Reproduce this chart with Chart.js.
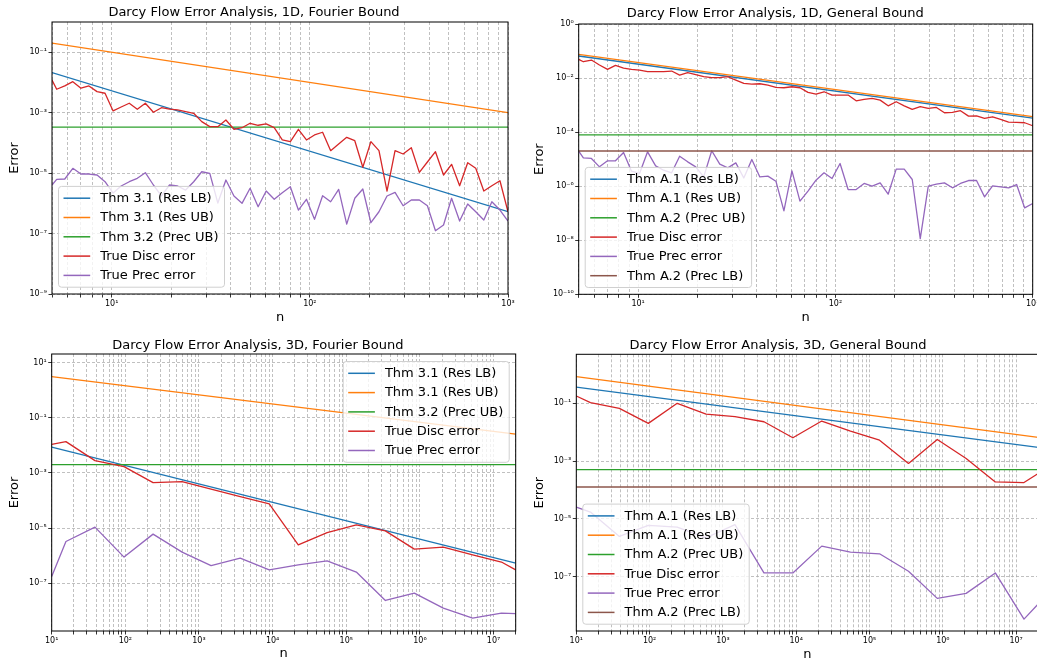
<!DOCTYPE html>
<html>
<head>
<meta charset="utf-8">
<script src="https://cdn.jsdelivr.net/npm/chart.js@4.4.1/dist/chart.umd.min.js"></script>
<style>
  html, body { margin: 0; padding: 0; background: #fff; overflow: hidden; width: 1037px; height: 664px; }
  canvas { position: absolute; }
</style>
</head>
<body>
<canvas id="f1" width="518" height="330" style="left:0;top:0"></canvas>
<canvas id="g1" width="530" height="330" style="left:518px;top:0"></canvas>
<canvas id="f3" width="518" height="334" style="left:0;top:330px"></canvas>
<canvas id="g3" width="530" height="334" style="left:518px;top:330px"></canvas>
<script>
// grid sizes
const n1D = [5, 5.28, 5.80, 6.37, 7.00, 7.68, 8.44, 9.26, 10.17, 11.17, 12.27, 13.47, 14.79, 16.24, 17.84,
  19.59, 21.51, 23.62, 25.94, 28.48, 31.28, 34.34, 37.71, 41.41, 45.48, 49.94, 54.84, 60.22, 66.13, 72.62,
  79.74, 87.57, 96.16, 105.6, 116.0, 127.4, 139.8, 153.5, 168.6, 185.1, 203.3, 223.3, 245.2, 269.2, 295.6,
  325.1, 357.0, 392.0, 430.5, 472.8, 519.2, 570.1, 626.1, 687.5, 755.0, 829.0, 910.7, 1000];
const n3D = [10, 15.6, 38.7, 96, 238, 590, 1460, 3630, 9000, 22300, 55000, 137000, 340000, 840000,
  2080000, 5200000, 12800000, 20000000];
const ends1D = [5, 1000];
const ends3D = [10, 20000000];

// 1D, Fourier bound
const f1ResLB = [0.0212, 5.3e-7];
const f1ResUB = [0.2, 1.0e-3];
const f1PrecUB = [3.3e-4, 3.3e-4];
const f1Disc = [1.21e-2, 5.96e-3, 7.66e-3, 1.06e-2, 6.43e-3, 7.66e-3, 4.96e-3, 4.39e-3, 1.14e-3, 1.54e-3,
  2.05e-3, 1.30e-3, 2.05e-3, 1.03e-3, 1.46e-3, 1.30e-3, 1.23e-3, 1.08e-3, 9.55e-4, 5.04e-4,
  3.44e-4, 3.44e-4, 5.73e-4, 2.82e-4, 3.18e-4, 4.46e-4, 3.83e-4, 4.23e-4, 3.18e-4, 1.25e-4,
  1.10e-4, 2.82e-4, 1.25e-4, 1.83e-4, 2.25e-4, 5.52e-5, 9.2e-5, 1.53e-4, 1.18e-4, 1.56e-5,
  1.10e-4, 5.52e-5, 2.55e-6, 5.52e-5, 4.29e-5, 6.93e-5, 1.06e-5, 2.33e-5, 5.12e-5, 8.65e-6,
  1.95e-5, 3.83e-6, 2.21e-5, 1.44e-5, 2.55e-6, 3.83e-6, 5.6e-6, 5.27e-7];
const f1Prec = [4.04e-6, 6.24e-6, 6.38e-6, 1.44e-5, 9.33e-6, 9.33e-6, 8.65e-6, 5.19e-6, 2.19e-6, 3.74e-6,
  5.19e-6, 6.73e-6, 1.03e-5, 4.04e-6, 1.75e-6, 4.04e-6, 3.74e-6, 2.75e-6, 5.19e-6, 1.11e-5,
  9.85e-6, 1.02e-6, 5.91e-6, 1.75e-6, 1.0e-6, 3.14e-6, 7.71e-7, 2.55e-6, 1.36e-6, 2.24e-6,
  3.55e-6, 6.0e-7, 1.36e-6, 2.95e-7, 1.79e-6, 1.13e-6, 2.91e-6, 2.06e-7, 1.47e-6, 2.98e-6,
  2.28e-7, 5.27e-7, 1.75e-6, 2.31e-6, 8.33e-7, 1.29e-6, 1.29e-6, 8.33e-7, 1.24e-7, 1.91e-7,
  1.47e-6, 2.59e-7, 9.48e-7, 5.27e-7, 2.80e-7, 1.13e-6, 6.0e-7, 2.59e-7];

// 1D, general bound
const g1ResLB = [0.0654, 3.27e-4];
const g1ResUB = [0.075, 3.75e-4];
const g1PrecUB = [7.9e-5, 7.9e-5];
const g1PrecLB = [2.0e-5, 2.0e-5];
const g1Disc = [4.93e-2, 4.02e-2, 4.64e-2, 3.03e-2, 2.09e-2, 2.95e-2, 2.35e-2, 2.09e-2, 1.98e-2, 1.72e-2,
  1.72e-2, 1.72e-2, 1.82e-2, 1.29e-2, 1.58e-2, 1.33e-2, 1.12e-2, 1.03e-2, 1.03e-2, 1.12e-2,
  8.43e-3, 6.34e-3, 6.0e-3, 6.16e-3, 5.5e-3, 4.51e-3, 4.38e-3, 4.77e-3, 4.38e-3, 2.95e-3,
  2.55e-3, 3.11e-3, 2.35e-3, 2.35e-3, 2.35e-3, 1.44e-3, 1.62e-3, 1.77e-3, 1.53e-3, 9.4e-4,
  1.33e-3, 9.4e-4, 6.9e-4, 8.7e-4, 7.5e-4, 8.2e-4, 5.2e-4, 5.35e-4, 6.2e-4, 3.9e-4,
  4.0e-4, 3.2e-4, 3.7e-4, 2.95e-4, 2.35e-4, 2.28e-4, 2.22e-4, 1.72e-4];
const g1Prec = [1.98e-5, 1.12e-5, 1.06e-5, 5.2e-6, 8.7e-6, 8.7e-6, 1.77e-5, 3.6e-6, 2.95e-6, 1.87e-5,
  5.66e-6, 3.9e-6, 3.12e-6, 1.29e-5, 7.96e-6, 5.2e-6, 2.2e-6, 2.04e-5, 6.53e-6, 4.77e-6,
  7.3e-6, 2.0e-6, 9.7e-6, 2.2e-6, 2.35e-6, 1.53e-6, 1.22e-7, 3.7e-6, 2.78e-7, 6.6e-7,
  1.67e-6, 3.12e-6, 1.92e-6, 6.9e-6, 7.5e-7, 7.5e-7, 1.26e-6, 1.0e-6, 1.33e-6, 5.06e-7,
  4.27e-6, 4.27e-6, 1.77e-6, 1.15e-8, 1.0e-6, 1.19e-6, 1.33e-6, 8.7e-7, 1.26e-6, 1.62e-6,
  1.62e-6, 4.03e-7, 1.03e-6, 9.4e-7, 8.7e-7, 1.15e-6, 1.57e-7, 2.28e-7];

// 3D, Fourier bound
const f3ResLB = [8.6e-3, 5.4e-7];
const f3ResUB = [3.11, 2.55e-2];
const f3PrecUB = [2.0e-3, 2.0e-3];
const f3Disc = [1.1e-2, 1.37e-2, 2.81e-3, 1.71e-3, 4.49e-4, 4.88e-4, 2.59e-4, 1.4e-4, 7.6e-5,
  2.48e-6, 6.9e-6, 1.32e-5, 7.98e-6, 1.73e-6, 2.05e-6, 1.08e-6, 5.9e-7, 3.08e-7];
const f3Prec = [1.76e-7, 3.27e-6, 1.09e-5, 8.9e-7, 6.07e-6, 1.35e-6, 4.4e-7, 8.2e-7, 3.08e-7,
  4.68e-7, 6.5e-7, 2.55e-7, 2.38e-8, 4.4e-8, 1.26e-8, 5.5e-9, 8.3e-9, 7.9e-9];

// 3D, general bound
const g3ResLB = [0.36, 2.96e-3];
const g3ResUB = [0.84, 6.6e-3];
const g3PrecUB = [5.1e-4, 5.1e-4];
const g3PrecLB = [1.27e-4, 1.27e-4];
const g3Disc = [0.179, 0.105, 6.7e-2, 2.02e-2, 0.1, 4.25e-2, 3.43e-2, 2.3e-2, 6.4e-3,
  2.43e-2, 1.09e-2, 5.3e-3, 8.3e-4, 5.6e-3, 1.23e-3, 1.9e-4, 1.81e-4, 3.7e-4];
const g3Prec = [2.57e-5, 1.72e-5, 2.47e-6, 5.94e-6, 5.2e-6, 2.22e-6, 6.3e-6, 1.35e-7, 1.35e-7,
  1.14e-6, 7.05e-7, 6.2e-7, 1.54e-7, 1.78e-8, 2.65e-8, 1.35e-7, 3.4e-9, 1.14e-8];

// labelled decades (exponents)
const xExp1D = [1, 2, 3];
const xExp3D = [1, 2, 3, 4, 5, 6, 7];
const yExpF1 = [-9, -7, -5, -3, -1];
const yExpG1 = [-10, -8, -6, -4, -2, 0];
const yExpF3 = [-7, -5, -3, -1, 1];
const yExpG3 = [-7, -5, -3, -1];

const C = { blue: '#1f77b4', orange: '#ff7f0e', green: '#2ca02c', red: '#d62728', purple: '#9467bd', brown: '#8c564b' };

Chart.defaults.font.family = "'DejaVu Sans', sans-serif";
Chart.defaults.color = '#000';

const SUP = { '-': '\u207b', '0': '\u2070', '1': '\u00b9', '2': '\u00b2', '3': '\u00b3', '4': '\u2074',
  '5': '\u2075', '6': '\u2076', '7': '\u2077', '8': '\u2078', '9': '\u2079' };
const pow10 = e => '10' + String(e).split('').map(c => SUP[c]).join('');

const pts = (xs, ys) => xs.map((x, i) => ({ x: x, y: ys[i] }));

// x ticks: labelled decades plus 2..9 multiples inside the range
function xTickList(min, max, exps) {
  const out = [];
  for (let e = Math.floor(Math.log10(min)); e <= Math.ceil(Math.log10(max)); e++) {
    for (let m = 1; m <= 9; m++) {
      const v = m * Math.pow(10, e);
      if (v >= min * 0.999 && v <= max * 1.001) out.push({ value: v, lbl: m === 1 && exps.includes(e) ? pow10(e) : '' });
    }
  }
  return out;
}

const boxPlugin = {
  id: 'boxLegend',
  afterDatasetsDraw(chart, args, opts) {
    const { ctx, chartArea: a } = chart;
    ctx.save();
    ctx.strokeStyle = '#000';
    ctx.lineWidth = 1;
    ctx.strokeRect(a.left, a.top, a.right - a.left, a.bottom - a.top);

    const items = chart.data.datasets;
    ctx.font = '13px "DejaVu Sans"';
    const tw = Math.max(...items.map(d => ctx.measureText(d.label).width));
    const w = 41.7 + tw + 6;
    const h = 23.6 + 19.3 * (items.length - 1);
    const x = opts.corner === 'ur' ? a.right - 6.5 - w : a.left + 6.5;
    const y = opts.corner === 'ur' ? a.top + 7.5 : a.bottom - 6.8 - h;
    const r = 3;
    ctx.beginPath();
    ctx.moveTo(x + r, y);
    ctx.lineTo(x + w - r, y); ctx.arcTo(x + w, y, x + w, y + r, r);
    ctx.lineTo(x + w, y + h - r); ctx.arcTo(x + w, y + h, x + w - r, y + h, r);
    ctx.lineTo(x + r, y + h); ctx.arcTo(x, y + h, x, y + h - r, r);
    ctx.lineTo(x, y + r); ctx.arcTo(x, y, x + r, y, r);
    ctx.closePath();
    ctx.fillStyle = 'rgba(255,255,255,0.8)';
    ctx.fill();
    ctx.strokeStyle = '#d0d0d0';
    ctx.stroke();

    ctx.textBaseline = 'middle';
    ctx.textAlign = 'left';
    items.forEach((d, i) => {
      const cy = y + 11.8 + 19.3 * i;
      ctx.beginPath();
      ctx.strokeStyle = d.borderColor;
      ctx.lineWidth = 1.5;
      ctx.moveTo(x + 5, cy);
      ctx.lineTo(x + 31.7, cy);
      ctx.stroke();
      ctx.fillStyle = '#000';
      ctx.fillText(d.label, x + 41.7, cy + 0.5);
    });
    ctx.restore();
  }
};

function makeChart(id, cfg) {
  const datasets = cfg.series.map((s, i) => ({
    label: s[0],
    data: s[1],
    borderColor: s[2],
    backgroundColor: s[2],
    borderWidth: 1.3,
    pointRadius: 0,
    tension: 0,
    fill: false,
    borderJoinStyle: 'round',
    order: cfg.series.length - i
  }));
  const L = cfg.lay;
  const yTicks = cfg.yExp.map(e => ({ value: Math.pow(10, e), lbl: pow10(e) }));
  const xTicks = xTickList(cfg.xMin, cfg.xMax, cfg.xExp);
  const gridCommon = { color: '#b0b0b0', lineWidth: 0.8, tickColor: '#000', tickLength: 3.5, tickWidth: 0.8 };
  new Chart(document.getElementById(id), {
    type: 'line',
    data: { datasets: datasets },
    plugins: [boxPlugin],
    options: {
      responsive: false,
      animation: false,
      events: [],
      layout: { padding: { left: 0, right: L.pr, top: 0, bottom: 0 } },
      plugins: {
        legend: { display: false },
        tooltip: { enabled: false },
        title: {
          display: true,
          text: cfg.title,
          font: { size: 13, weight: 'normal' },
          color: '#000',
          padding: { top: L.tt, bottom: L.tb }
        },
        boxLegend: { corner: cfg.corner }
      },
      scales: {
        x: {
          type: 'logarithmic',
          min: cfg.xMin,
          max: cfg.xMax,
          afterBuildTicks: s => { s.ticks = xTicks.map(t => ({ value: t.value, lbl: t.lbl })); },
          afterFit: s => { s.height = L.xh; },
          ticks: {
            autoSkip: false, maxRotation: 0, minRotation: 0, padding: 1.5,
            font: { size: 8 }, color: '#000',
            callback: (v, i, t) => t[i].lbl
          },
          grid: gridCommon,
          border: { display: false, dash: [3, 2] },
          title: { display: true, text: 'n', font: { size: 13 }, color: '#000', padding: { top: 0, bottom: L.xt } }
        },
        y: {
          type: 'logarithmic',
          position: 'left',
          min: cfg.yMin,
          max: cfg.yMax,
          afterBuildTicks: s => { s.ticks = yTicks.map(t => ({ value: t.value, lbl: t.lbl })); },
          afterFit: s => { s.width = L.yw; },
          ticks: {
            autoSkip: false, padding: 1.5,
            font: { size: 8 }, color: '#000',
            callback: (v, i, t) => t[i].lbl
          },
          grid: gridCommon,
          border: { display: false, dash: [3, 2] },
          title: { display: true, text: 'Error', font: { size: 13 }, color: '#000', padding: { top: L.yt, bottom: 0 } }
        }
      }
    }
  });
}

makeChart('f1', {
  title: 'Darcy Flow Error Analysis, 1D, Fourier Bound',
  corner: 'll',
  xMin: 5, xMax: 1000, xExp: xExp1D,
  yMin: 1e-9, yMax: 1, yExp: yExpF1,
  lay: { pr: 10, tt: 4.9, tb: 1.5, xh: 36, xt: 4.2, yw: 52, yt: 7.2 },
  series: [
    ['Thm 3.1 (Res LB)', pts(ends1D, f1ResLB), C.blue],
    ['Thm 3.1 (Res UB)', pts(ends1D, f1ResUB), C.orange],
    ['Thm 3.2 (Prec UB)', pts(ends1D, f1PrecUB), C.green],
    ['True Disc error', pts(n1D, f1Disc), C.red],
    ['True Prec error', pts(n1D, f1Prec), C.purple]
  ]
});

makeChart('g1', {
  title: 'Darcy Flow Error Analysis, 1D, General Bound',
  corner: 'll',
  xMin: 5, xMax: 1000, xExp: xExp1D,
  yMin: 1e-10, yMax: 1, yExp: yExpG1,
  lay: { pr: 15.3, tt: 6.2, tb: 2.2, xh: 35.7, xt: 4.5, yw: 60.7, yt: 13.9 },
  series: [
    ['Thm A.1 (Res LB)', pts(ends1D, g1ResLB), C.blue],
    ['Thm A.1 (Res UB)', pts(ends1D, g1ResUB), C.orange],
    ['Thm A.2 (Prec UB)', pts(ends1D, g1PrecUB), C.green],
    ['True Disc error', pts(n1D, g1Disc), C.red],
    ['True Prec error', pts(n1D, g1Prec), C.purple],
    ['Thm A.2 (Prec LB)', pts(ends1D, g1PrecLB), C.brown]
  ]
});

makeChart('f3', {
  title: 'Darcy Flow Error Analysis, 3D, Fourier Bound',
  corner: 'ur',
  xMin: 10, xMax: 2e7, xExp: xExp3D,
  yMin: 1.86e-9, yMax: 20.7, yExp: yExpF3,
  lay: { pr: 2.3, tt: 7.9, tb: 0.5, xh: 33, xt: 2.9, yw: 51.7, yt: 7.2 },
  series: [
    ['Thm 3.1 (Res LB)', pts(ends3D, f3ResLB), C.blue],
    ['Thm 3.1 (Res UB)', pts(ends3D, f3ResUB), C.orange],
    ['Thm 3.2 (Prec UB)', pts(ends3D, f3PrecUB), C.green],
    ['True Disc error', pts(n3D, f3Disc), C.red],
    ['True Prec error', pts(n3D, f3Prec), C.purple]
  ]
});

makeChart('g3', {
  title: 'Darcy Flow Error Analysis, 3D, General Bound',
  corner: 'll',
  xMin: 10, xMax: 2e7, xExp: xExp3D,
  yMin: 1.32e-9, yMax: 4.96, yExp: yExpG3,
  lay: { pr: 9.8, tt: 7.9, tb: 0.8, xh: 33, xt: 1.9, yw: 58.3, yt: 13.9 },
  series: [
    ['Thm A.1 (Res LB)', pts(ends3D, g3ResLB), C.blue],
    ['Thm A.1 (Res UB)', pts(ends3D, g3ResUB), C.orange],
    ['Thm A.2 (Prec UB)', pts(ends3D, g3PrecUB), C.green],
    ['True Disc error', pts(n3D, g3Disc), C.red],
    ['True Prec error', pts(n3D, g3Prec), C.purple],
    ['Thm A.2 (Prec LB)', pts(ends3D, g3PrecLB), C.brown]
  ]
});
</script>
</body>
</html>
